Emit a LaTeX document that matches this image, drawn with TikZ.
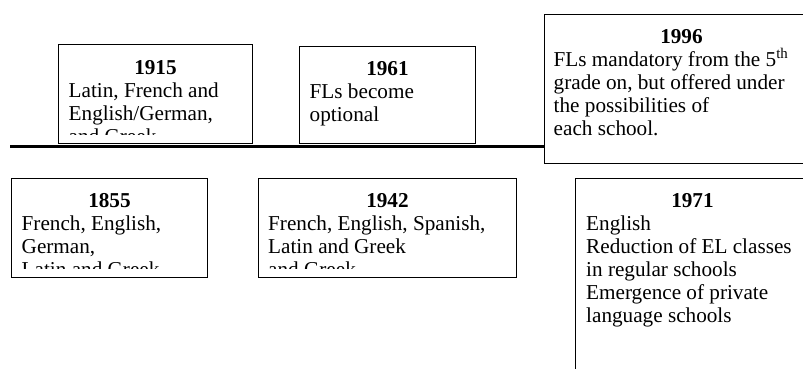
\documentclass[tikz,border=0pt]{standalone}
\usepackage{fontspec}
\setmainfont{Liberation Serif}
\usetikzlibrary{calc}
\newcommand\evlines[1]{\begin{tabular}[t]{@{}l@{}}#1\end{tabular}}
\tikzset{
  evbox/.style={draw=black, line width=0.9pt, fill=white, inner sep=0pt, anchor=north west},
  yr/.style={font=\fontsize{21.2}{23}\selectfont\bfseries, anchor=base, inner sep=0pt},
  body/.style={font=\fontsize{21.2}{23}\selectfont, anchor=base west, inner sep=0pt},
  timeline/.style={draw=black, line width=2.8pt},
}
% #1 box name, #2 year, #3 title drop, #4 left pad, #5 lines
\newcommand\evtext[5]{%
  \begin{scope}
    \clip (#1.north west) rectangle ($(#1.south east)+(0,9)$);
    \node[yr] (#1-year) at ($(#1.north)+(0,-#3)$) {#2};
    \node[body] (#1-text) at ($(#1.north west)+(#4,-#3-23)$) {\evlines{#5}};
  \end{scope}}
\begin{document}
\begin{tikzpicture}[x=1pt,y=1pt]
\useasboundingbox (0,0) rectangle (803,-368);
\clip (0,0) rectangle (803,-368);
\fill[white] (0,0) rectangle (803,-368);

% box on the right end of the line
\node[evbox, minimum width=274pt, minimum height=149pt] (b1996) at (544,-14) {};
\evtext{b1996}{1996}{29.5}{9.5}{FLs mandatory from the 5\textsuperscript{th}\\grade on, but offered under\\the possibilities of\\each school.}

\coordinate (tstart) at (10,-146.5);
\draw[timeline] (tstart) -- (tstart -| b1996.west);

% boxes above the line
\node[evbox, minimum width=194pt, minimum height=99pt] (b1915) at (58,-44) {};
\evtext{b1915}{1915}{30}{10.5}{Latin, French and\\English/German,\\and Greek}

\node[evbox, minimum width=176pt, minimum height=97pt] (b1961) at (299,-46) {};
\evtext{b1961}{1961}{29.5}{10.5}{FLs become\\optional}

% boxes below the line
\node[evbox, minimum width=196pt, minimum height=99pt] (b1855) at (11,-178) {};
\evtext{b1855}{1855}{29}{10.5}{French, English,\\German,\\Latin and Greek}

\node[evbox, minimum width=258pt, minimum height=99pt] (b1942) at (258,-178) {};
\evtext{b1942}{1942}{29.5}{10}{French, English, Spanish,\\Latin and Greek\\and Greek}

\node[evbox, minimum width=234pt, minimum height=222pt] (b1971) at (575,-178) {};
\evtext{b1971}{1971}{29}{11}{English\\Reduction of EL classes\\in regular schools\\Emergence of private\\language schools}
\end{tikzpicture}
\end{document}
